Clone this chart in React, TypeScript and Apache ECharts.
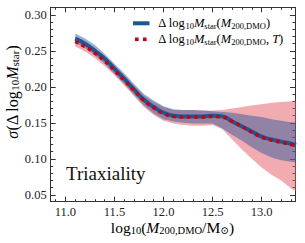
import React, { useEffect, useRef } from "react";
import * as echarts from "echarts";

const xs = [11.1, 11.2, 11.3, 11.4, 11.5, 11.6, 11.7, 11.8, 11.9, 12.0, 12.1, 12.2, 12.3, 12.4, 12.5, 12.6, 12.7, 12.8, 12.9, 13.0, 13.1, 13.2, 13.3, 13.35];
const blueMean = [0.267, 0.26, 0.25, 0.239, 0.225, 0.211, 0.196, 0.182, 0.172, 0.164, 0.16, 0.159, 0.159, 0.159, 0.16, 0.159, 0.152, 0.145, 0.138, 0.131, 0.127, 0.124, 0.121, 0.119];
const redMean = [0.263, 0.256, 0.247, 0.236, 0.223, 0.209, 0.195, 0.181, 0.171, 0.163, 0.159, 0.158, 0.158, 0.158, 0.159, 0.158, 0.152, 0.145, 0.137, 0.13, 0.126, 0.123, 0.12, 0.118];
const blueLo = [0.261, 0.254, 0.244, 0.232, 0.218, 0.204, 0.189, 0.174, 0.163, 0.155, 0.152, 0.15, 0.149, 0.149, 0.149, 0.142, 0.133, 0.125, 0.116, 0.108, 0.102, 0.098, 0.096, 0.095];
const blueHi = [0.274, 0.267, 0.258, 0.246, 0.232, 0.219, 0.204, 0.19, 0.181, 0.173, 0.169, 0.168, 0.168, 0.167, 0.166, 0.165, 0.164, 0.162, 0.16, 0.158, 0.155, 0.153, 0.151, 0.15];
const redLo = [0.256, 0.249, 0.24, 0.229, 0.216, 0.202, 0.187, 0.172, 0.161, 0.153, 0.149, 0.147, 0.146, 0.146, 0.147, 0.141, 0.127, 0.113, 0.1, 0.088, 0.078, 0.07, 0.059, 0.055];
const redHi = [0.269, 0.262, 0.254, 0.243, 0.23, 0.216, 0.202, 0.188, 0.179, 0.172, 0.168, 0.168, 0.168, 0.167, 0.167, 0.168, 0.17, 0.172, 0.174, 0.176, 0.178, 0.179, 0.18, 0.18];

const xMajor = [11.0, 11.5, 12.0, 12.5, 13.0];
const xMinor = [10.9, 11.1, 11.2, 11.3, 11.4, 11.6, 11.7, 11.8, 11.9, 12.1, 12.2, 12.3, 12.4, 12.6, 12.7, 12.8, 12.9, 13.1, 13.2, 13.3];
const yMajor = [0.05, 0.1, 0.15, 0.2, 0.25, 0.3];
const yMinor = [0.06, 0.07, 0.08, 0.09, 0.11, 0.12, 0.13, 0.14, 0.16, 0.17, 0.18, 0.19, 0.21, 0.22, 0.23, 0.24, 0.26, 0.27, 0.28, 0.29, 0.31];

const X_MIN = 10.85;
const X_MAX = 13.34;
const Y_MIN = 0.0405;
const Y_MAX = 0.3105;

const SERIF = "'Liberation Serif', 'DejaVu Serif', serif";
const AX = "#333";
const BLUE = "#1c5797";
const RED = "#c8000f";

const zip = (a: number[], b: number[]) => a.map((v, i) => [v, b[i]]);

const richStyles = (size: number, sub: number, lh: number, subLh: number) => ({
  m: { fontFamily: SERIF, fontSize: size, color: "#111", lineHeight: lh },
  i: { fontFamily: SERIF, fontSize: size, color: "#111", lineHeight: lh, fontStyle: "italic" },
  s: { fontFamily: SERIF, fontSize: sub, color: "#111", lineHeight: subLh, verticalAlign: "bottom" },
});

function xAxisDef(pos: string, values: number[], len: number, labels: boolean, line: boolean) {
  return {
    type: "value",
    min: X_MIN,
    max: X_MAX,
    position: pos,
    axisLine: { show: line, lineStyle: { color: AX, width: 1 } },
    axisTick: { show: true, inside: true, length: len, customValues: values, lineStyle: { color: AX, width: 1 } },
    axisLabel: labels
      ? { show: true, customValues: values, formatter: (v: number) => v.toFixed(1), fontFamily: SERIF, fontSize: 12.5, color: "#222", margin: 4 }
      : { show: false },
    splitLine: { show: false },
  };
}

function yAxisDef(pos: string, values: number[], len: number, labels: boolean, line: boolean) {
  return {
    type: "value",
    min: Y_MIN,
    max: Y_MAX,
    position: pos,
    axisLine: { show: line, lineStyle: { color: AX, width: 1 } },
    axisTick: { show: true, inside: true, length: len, customValues: values, lineStyle: { color: AX, width: 1 } },
    axisLabel: labels
      ? { show: true, customValues: values, formatter: (v: number) => v.toFixed(2), fontFamily: SERIF, fontSize: 12.5, color: "#222", margin: 4 }
      : { show: false },
    splitLine: { show: false },
  };
}

const bandSeries = (name: string, lo: number[], hi: number[], color: string, z: number) => ({
  type: "custom",
  name,
  silent: true,
  clip: true,
  z,
  data: [[xs[0], lo[0]]],
  renderItem: (_params: any, api: any) => {
    const upper = xs.map((x, i) => api.coord([x, hi[i]]));
    const lower = xs.map((x, i) => api.coord([x, lo[i]])).reverse();
    return {
      type: "polygon",
      shape: { points: upper.concat(lower) },
      style: { fill: color, stroke: "none" },
    };
  },
});

export default function App() {
  const ref = useRef<HTMLDivElement>(null);
  useEffect(() => {
    if (!ref.current) return;
    const chart = echarts.init(ref.current, undefined, { renderer: "svg" });
    const legendRich = richStyles(12.5, 8.5, 14, 6);
    const option: any = {
      animation: false,
      backgroundColor: "#fff",
      grid: { left: 50.7, top: 7.3, right: 10, bottom: 41.3, containLabel: false },
      xAxis: [
        xAxisDef("bottom", xMajor, 5, true, true),
        xAxisDef("bottom", xMinor, 2.5, false, false),
        xAxisDef("top", xMajor, 5, false, true),
        xAxisDef("top", xMinor, 2.5, false, false),
      ],
      yAxis: [
        yAxisDef("left", yMajor, 5, true, true),
        yAxisDef("left", yMinor, 2.5, false, false),
        yAxisDef("right", yMajor, 5, false, true),
        yAxisDef("right", yMinor, 2.5, false, false),
      ],
      series: [
        bandSeries("redband", redLo, redHi, "rgba(228,90,100,0.5)", 1),
        bandSeries("blueband", blueLo, blueHi, "rgba(31,80,150,0.45)", 2),
        {
          type: "line",
          name: "blue",
          data: zip(xs, blueMean),
          smooth: true,
          symbol: "none",
          lineStyle: { color: BLUE, width: 4 },
          z: 3,
        },
        {
          type: "line",
          name: "red",
          data: zip(xs, redMean),
          smooth: true,
          symbol: "none",
          lineStyle: { color: RED, width: 3.5, type: [3.5, 3.8], cap: "butt" },
          z: 4,
        },
      ],
      graphic: [
        {
          type: "line",
          shape: { x1: 133, y1: 23.3, x2: 149.5, y2: 23.3 },
          style: { stroke: BLUE, lineWidth: 4 },
          silent: true,
        },
        {
          type: "rect",
          shape: { x: 135, y: 37.5, width: 3.6, height: 3.6 },
          style: { fill: RED },
          silent: true,
        },
        {
          type: "rect",
          shape: { x: 143, y: 37.5, width: 3.6, height: 3.6 },
          style: { fill: RED },
          silent: true,
        },
        {
          type: "text",
          x: 158.3,
          y: 23.3,
          style: {
            text: "{m|Δ log}{s|10}{i|M}{s|star}{m|(}{i|M}{s|200,DMO}{m|)}",
            rich: legendRich,
            align: "left",
            verticalAlign: "middle",
          },
          silent: true,
        },
        {
          type: "text",
          x: 158.3,
          y: 39.3,
          style: {
            text: "{m|Δ log}{s|10}{i|M}{s|star}{m|(}{i|M}{s|200,DMO}{m|, }{i|T}{m|)}",
            rich: legendRich,
            align: "left",
            verticalAlign: "middle",
          },
          silent: true,
        },
        {
          type: "text",
          left: 66,
          top: 164,
          style: { text: "Triaxiality", fontFamily: SERIF, fontSize: 19, fill: "#111" },
          silent: true,
        },
        {
          type: "text",
          x: 172.5,
          y: 227,
          style: {
            text: "{m|log}{s|10}{m|(}{i|M}{s|200,DMO}{m|/M}{s|⊙}{m|)}",
            rich: richStyles(15.5, 10.5, 17, 8),
            align: "center",
            verticalAlign: "middle",
          },
          silent: true,
        },
        {
          type: "text",
          x: 12,
          y: 92,
          rotation: Math.PI / 2,
          style: {
            text: "{i|σ}{m|(Δ log}{s|10}{i|M}{s|star}{m|)}",
            rich: richStyles(16, 11, 17, 8),
            align: "center",
            verticalAlign: "middle",
          },
          silent: true,
        },
      ],
    };
    chart.setOption(option);
    return () => chart.dispose();
  }, []);
  return <div ref={ref} style={{ position: "absolute", left: 0, top: 0, width: 305, height: 243 }} />;
}
